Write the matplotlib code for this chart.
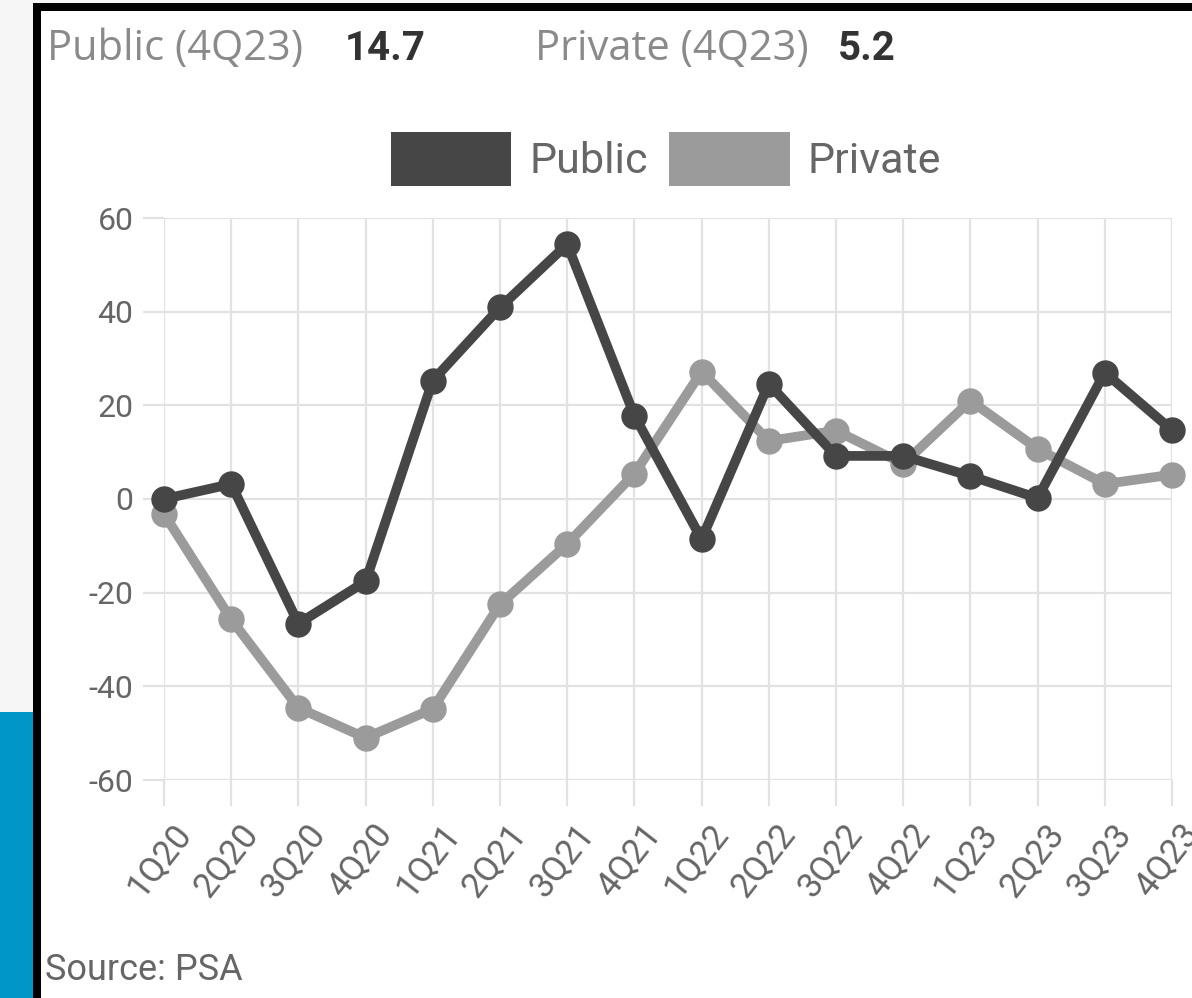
import matplotlib.pyplot as plt
from matplotlib.patches import Rectangle, Patch
from matplotlib.transforms import ScaledTranslation

quarters = ['1Q20', '2Q20', '3Q20', '4Q20', '1Q21', '2Q21', '3Q21', '4Q21',
            '1Q22', '2Q22', '3Q22', '4Q22', '1Q23', '2Q23', '3Q23', '4Q23']
public = [0.0, 3.2, -26.6, -17.6, 25.3, 40.9, 54.4, 17.8,
          -8.6, 24.6, 9.2, 9.2, 4.9, 0.2, 27.0, 14.7]
private = [-3.2, -25.7, -44.6, -51.0, -44.8, -22.5, -9.6, 5.4,
           27.2, 12.4, 14.6, 7.5, 21.0, 10.7, 3.2, 5.2]
y_ticks = [-60, -40, -20, 0, 20, 40, 60]

c_pub = '#464646'
c_priv = '#9b9b9b'
c_grid = '#e2e2e2'
c_text = '#666666'
FONT = ['Roboto', 'DejaVu Sans']

W, H = 1192, 998
fig = plt.figure(figsize=(W / 100, H / 100), dpi=100)
fig.patch.set_facecolor('white')

# page behind the chart card (screenshot edge)
fig.add_artist(Rectangle((0, 0), 33 / W, 1, transform=fig.transFigure,
                         facecolor='#f6f6f6', edgecolor='none', zorder=0))
fig.add_artist(Rectangle((0, 0), 33 / W, 1 - 712 / H, transform=fig.transFigure,
                         facecolor='#0096c8', edgecolor='none', zorder=0))
fig.add_artist(Rectangle((33 / W, 1 - 3 / H), 1, 3 / H, transform=fig.transFigure,
                         facecolor='#f6f6f6', edgecolor='none', zorder=0))
fig.add_artist(Rectangle((33 / W, 0), 8 / W, 1 - 3 / H, transform=fig.transFigure,
                         facecolor='black', edgecolor='none', zorder=1))
fig.add_artist(Rectangle((33 / W, 1 - 11 / H), 1, 8 / H, transform=fig.transFigure,
                         facecolor='black', edgecolor='none', zorder=1))

ax = fig.add_axes([164 / W, 1 - 780 / H, (1172 - 164) / W, (780 - 218) / H])
x = list(range(len(quarters)))
ax.plot(x, private, color=c_priv, lw=7, marker='o', ms=18, clip_on=False, zorder=3)
ax.plot(x, public, color=c_pub, lw=7, marker='o', ms=18, clip_on=False, zorder=4)

ax.set_xlim(0, len(quarters) - 1)
ax.set_ylim(-60, 60)
ax.set_yticks(y_ticks)
ax.set_yticklabels([str(v) for v in y_ticks], family=FONT, fontsize=23, color=c_text)
ax.set_xticks(x)
ax.set_xticklabels(quarters, family=FONT, fontsize=25, color=c_text,
                   rotation=52, ha='right', va='top', rotation_mode='anchor')
ax.grid(True, color=c_grid, lw=1.6)
ax.set_axisbelow(True)
for s in ax.spines.values():
    s.set_visible(False)
ax.tick_params(axis='y', length=15, width=1.6, color=c_grid, pad=7)
ax.tick_params(axis='x', length=19, width=1.6, color=c_grid, pad=6)
off = ScaledTranslation(0.07, -0.03, fig.dpi_scale_trans)
for lab in ax.get_xticklabels():
    lab.set_transform(lab.get_transform() + off)

# header
fig.text(47 / W, 1 - 60 / H, 'Public (4Q23)', family=['Open Sans', 'DejaVu Sans'],
         fontsize=30, color='#8a8a8a', va='baseline')
fig.text(345 / W, 1 - 60 / H, f'{public[-1]:.1f}', family=FONT, fontsize=29,
         fontweight='bold', color='#333333', va='baseline')
fig.text(535 / W, 1 - 60 / H, 'Private (4Q23)', family=['Open Sans', 'DejaVu Sans'],
         fontsize=30, color='#8a8a8a', va='baseline')
fig.text(838 / W, 1 - 60 / H, f'{private[-1]:.1f}', family=FONT, fontsize=29,
         fontweight='bold', color='#333333', va='baseline')

handles = [Patch(facecolor=c_pub, edgecolor='none', label='Public'),
           Patch(facecolor=c_priv, edgecolor='none', label='Private')]
fig.legend(handles=handles, loc='center', bbox_to_anchor=(666 / W, 1 - 159 / H),
           ncol=2, frameon=False, prop={'family': FONT, 'size': 31},
           labelcolor=c_text, handlelength=2.8, handleheight=1.53,
           handletextpad=0.42, columnspacing=0.5, borderpad=0)

fig.text(45 / W, 1 - 980 / H, 'Source: PSA', family=FONT, fontsize=26,
         color=c_text, va='baseline')

fig.savefig('out.png', dpi=100)
